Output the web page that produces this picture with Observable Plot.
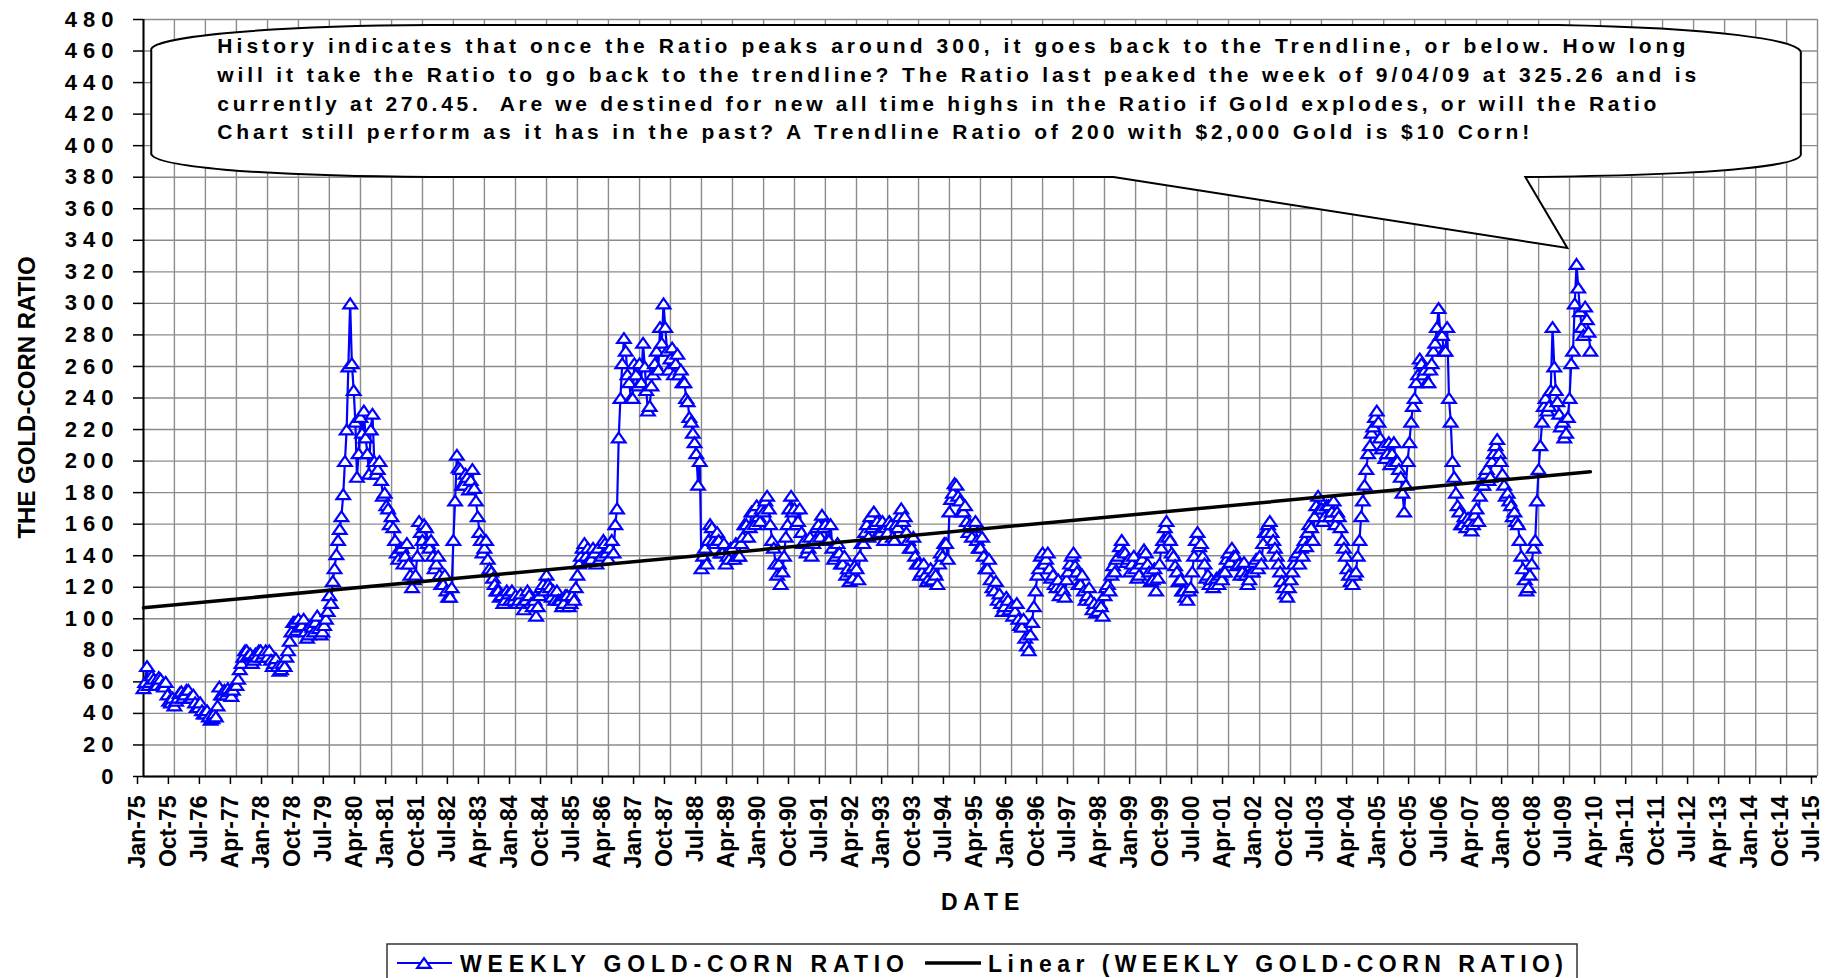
<!DOCTYPE html>
<html>
<head>
<meta charset="utf-8">
<script src="https://cdn.jsdelivr.net/npm/d3@7"></script>
<script src="https://cdn.jsdelivr.net/npm/@observablehq/plot@0.6"></script>
<style>
  html, body { margin: 0; padding: 0; background: #fff; }
  #chart svg { display: block; }
  #chart g[aria-label="y-axis tick label"] text { font-size: 22px; letter-spacing: 6px; }
  #chart g[aria-label="x-axis tick label"] text { font-size: 23px; }
</style>
</head>
<body>
<div id="chart"></div>
<script>
const FONT = '"Liberation Sans", Arial, Helvetica, sans-serif';

// ---- data: gold/corn ratio, two readings per month (1st and 16th) from Jan 1975 ----
const firstMonth = "1975-01";
const ratio1970sEarly = [
  56, 70, 60, 62, 58, 62, 57, 52, 47, 45, 50, 54,        // 1975
  52, 55, 50, 47, 44, 42, 40, 38, 37, 38, 57, 52,        // 1976
  52, 54, 55, 58, 68, 76, 80, 78, 74, 76, 80, 78,        // 1977
  76, 74, 72, 70, 68, 70, 80, 92, 98, 100, 96, 92,       // 1978
  90, 95, 98, 94, 92, 100, 115, 124, 141, 157, 179, 220  // 1979
];
const ratio1970sLate = [
  60, 58, 64, 58, 63, 58, 60, 48, 50, 48, 53, 50,
  55, 50, 52, 44, 47, 40, 42, 36, 40, 45, 52, 55,
  56, 51, 58, 62, 72, 80, 77, 72, 78, 80, 76, 80,
  80, 70, 75, 67, 72, 76, 86, 98, 93, 95, 100, 88,
  96, 92, 102, 90, 96, 105, 110, 132, 150, 165, 200, 260
];
const ratio1980sEarly = [
  300, 245, 190, 228, 232, 205, 220, 200, 195, 188, 180, 170, // 1980
  165, 150, 138, 145, 140, 135, 120, 128, 162, 150, 158, 145, // 1981
  140, 135, 128, 122, 118, 114, 150, 204, 195, 185, 190, 188, // 1982
  183, 165, 150, 145, 138, 130, 122, 118, 115, 112, 116, 118, // 1983
  115, 112, 110, 112, 115, 108, 102, 115, 122, 128, 120, 118, // 1984
  118, 112, 110, 115, 110, 112, 128, 140, 148, 145, 138, 142, // 1985
  145, 140, 148, 138, 150, 160, 215, 262, 270, 250, 240, 255, // 1986
  262, 275, 245, 235, 255, 270, 285, 300, 270, 265, 255, 268, // 1987
  258, 250, 238, 225, 212, 185, 132, 145, 150, 158, 148, 150, // 1988
  142, 135, 138, 145, 148, 140, 152, 160, 158, 168, 172, 162  // 1989
];
const ratio1980sLate = [
  262, 225, 205, 218, 215, 192, 230, 192, 200, 178, 172, 160,
  158, 142, 145, 135, 148, 128, 125, 140, 155, 160, 148, 150,
  132, 140, 122, 128, 114, 120, 175, 196, 185, 192, 182, 195,
  175, 155, 142, 150, 132, 126, 118, 114, 110, 118, 112, 112,
  110, 116, 106, 118, 110, 112, 108, 120, 118, 122, 114, 112,
  112, 108, 115, 108, 115, 120, 135, 145, 140, 138, 145, 135,
  138, 150, 142, 145, 142, 170, 240, 278, 255, 240, 262, 248,
  250, 260, 232, 248, 262, 258, 275, 285, 258, 272, 262, 255,
  250, 240, 228, 218, 205, 200, 140, 135, 160, 150, 155, 142,
  148, 140, 145, 138, 140, 148, 160, 152, 168, 160, 165, 170
];
const ratio1990sEarly = [
  168, 178, 160, 145, 128, 122, 140, 160, 178, 170, 162, 155, // 1990
  150, 145, 140, 150, 160, 166, 160, 150, 145, 140, 142, 135, // 1991
  128, 124, 126, 132, 140, 148, 160, 165, 168, 162, 155, 150, // 1992
  155, 160, 150, 158, 170, 165, 150, 145, 140, 135, 130, 128, // 1993
  126, 125, 128, 135, 140, 148, 168, 180, 185, 175, 168, 162, // 1994
  160, 158, 150, 145, 140, 132, 125, 118, 112, 110, 108, 112, // 1995
  108, 105, 100, 95, 88, 80, 98, 118, 132, 142, 138, 132,     // 1996
  128, 120, 115, 118, 125, 135, 142, 130, 122, 118, 115, 112, // 1997
  110, 105, 108, 115, 122, 128, 130, 140, 150, 142, 138, 135, // 1998
  132, 128, 138, 142, 130, 125, 118, 135, 150, 162, 150, 140  // 1999
];
const ratio1990sLate = [
  175, 170, 150, 135, 135, 130, 152, 170, 168, 160, 170, 148,
  142, 152, 148, 158, 152, 158, 150, 160, 138, 148, 135, 140,
  132, 130, 134, 125, 148, 155, 152, 158, 160, 155, 162, 158,
  162, 152, 160, 165, 162, 155, 145, 152, 135, 128, 135, 124,
  132, 130, 122, 142, 148, 138, 176, 186, 178, 168, 172, 155,
  152, 162, 145, 152, 132, 138, 120, 124, 116, 105, 114, 106,
  102, 110, 96, 100, 83, 90, 108, 128, 140, 135, 142, 126,
  122, 125, 120, 114, 130, 140, 134, 122, 128, 112, 120, 106,
  104, 110, 102, 120, 118, 134, 138, 146, 143, 136, 130, 140,
  126, 135, 144, 135, 124, 132, 126, 145, 158, 152, 142, 134
];
const ratio2000sEarly = [
  130, 125, 118, 112, 120, 140, 155, 148, 135, 128, 125, 122, // 2000
  122, 125, 130, 142, 145, 140, 135, 130, 128, 125, 130, 138, // 2001
  140, 148, 155, 162, 150, 140, 130, 120, 114, 125, 135, 142, // 2002
  145, 150, 155, 158, 165, 178, 170, 165, 172, 168, 160, 165, // 2003
  150, 140, 128, 122, 130, 150, 175, 195, 210, 222, 232, 215, // 2004
  210, 205, 198, 212, 200, 190, 168, 200, 225, 240, 255, 262, // 2005
  258, 250, 262, 275, 297, 280, 270, 240, 200, 180, 168, 160, // 2006
  158, 162, 160, 170, 178, 185, 195, 190, 205, 214, 200, 185, // 2007
  180, 172, 168, 160, 140, 125, 120, 135, 150, 195, 225, 240, // 2008
  235, 285, 245, 230, 225, 218, 240, 270, 325, 295, 280, 290, // 2009
  270                                                          // Jan 2010
];
const ratio2000sLate = [
  124, 118, 114, 118, 130, 150, 146, 140, 126, 122, 120, 126,
  128, 130, 138, 136, 140, 134, 128, 136, 122, 130, 136, 132,
  135, 155, 160, 155, 145, 135, 124, 116, 120, 130, 140, 135,
  140, 146, 160, 150, 172, 170, 162, 172, 165, 175, 168, 158,
  145, 132, 124, 128, 140, 165, 185, 205, 218, 228, 225, 208,
  202, 212, 205, 200, 195, 180, 185, 212, 235, 250, 265, 255,
  250, 258, 270, 285, 280, 270, 285, 225, 190, 172, 160, 165,
  164, 156, 166, 162, 185, 192, 188, 200, 210, 205, 192, 178,
  175, 165, 162, 150, 132, 118, 128, 145, 175, 210, 235, 232,
  245, 260, 238, 222, 215, 228, 262, 300, 310, 285, 298, 282
];

const yTicks = [0, 20, 40, 60, 80, 100, 120, 140, 160, 180, 200, 220, 240,
  260, 280, 300, 320, 340, 360, 380, 400, 420, 440, 460, 480];
const xTickLabels = ["Jan-75","Oct-75","Jul-76","Apr-77","Jan-78","Oct-78","Jul-79","Apr-80",
  "Jan-81","Oct-81","Jul-82","Apr-83","Jan-84","Oct-84","Jul-85","Apr-86","Jan-87","Oct-87",
  "Jul-88","Apr-89","Jan-90","Oct-90","Jul-91","Apr-92","Jan-93","Oct-93","Jul-94","Apr-95",
  "Jan-96","Oct-96","Jul-97","Apr-98","Jan-99","Oct-99","Jul-00","Apr-01","Jan-02","Oct-02",
  "Jul-03","Apr-04","Jan-05","Oct-05","Jul-06","Apr-07","Jan-08","Oct-08","Jul-09","Apr-10",
  "Jan-11","Oct-11","Jul-12","Apr-13","Jan-14","Oct-14","Jul-15"];

const seriesName = "WEEKLY GOLD-CORN RATIO";
const trendName = "Linear (WEEKLY GOLD-CORN RATIO)";
const yTitle = "THE GOLD-CORN RATIO";
const xTitle = "DATE";
const calloutLines = [
  "History indicates that once the Ratio peaks around 300, it goes back to the Trendline, or below. How long",
  "will it take the Ratio to go back to the trendline? The Ratio last peaked the week of 9/04/09 at 325.26 and is",
  "currently at 270.45.  Are we destined for new all time highs in the Ratio if Gold explodes, or will the Ratio",
  "Chart still perform as it has in the past? A Trendline Ratio of 200 with $2,000 Gold is $10 Corn!"
];

// ---- build table ----
const start = d3.utcParse("%Y-%m")(firstMonth);
const early = [...ratio1970sEarly, ...ratio1980sEarly, ...ratio1990sEarly, ...ratio2000sEarly];
const late = [...ratio1970sLate, ...ratio1980sLate, ...ratio1990sLate, ...ratio2000sLate];
const data = [];
early.forEach((v, i) => {
  const m = d3.utcMonth.offset(start, i);
  data.push({date: m, ratio: v});
  if (i < late.length) data.push({date: d3.utcDay.offset(m, 15), ratio: late[i]});
});

const parseTick = d3.utcParse("%b-%y");
const xTickDates = xTickLabels.map(parseTick);
const labelByTime = new Map(xTickDates.map((d, i) => [+d, xTickLabels[i]]));

const BLUE = "#0000ff";
const GRID = "#8c8c8c";

const triangle = {
  draw(ctx) {
    ctx.moveTo(0, -4.9);
    ctx.lineTo(6.8, 4.9);
    ctx.lineTo(-6.8, 4.9);
    ctx.closePath();
  }
};

function svgEl(name) { return document.createElementNS("http://www.w3.org/2000/svg", name); }
function attrs(el, a) { for (const k in a) el.setAttribute(k, a[k]); return el; }

// callout bubble (annotation), anchored through the scales
function calloutMark(index, scales) {
  const xs = scales.x, ys = scales.y;
  const L = xs(new Date(Date.UTC(1975, 2, 15))), R = xs(new Date(Date.UTC(2015, 1, 8)));
  const T = ys(476.2), B = ys(379.8);
  const wl = xs(new Date(Date.UTC(1998, 5, 24))), wr = xs(new Date(Date.UTC(2008, 5, 10)));
  const tx = xs(new Date(Date.UTC(2009, 5, 16))), ty = ys(334.8);
  const d = `M${L},${B - 22} L${L},${T + 24} ` +
    `C${L + 4},${T + 13} ${L + 99},${T + 1} ${L + 279},${T} ` +
    `L${R - 242},${T} C${R - 82},${T + 3} ${R - 4},${T + 15} ${R},${T + 27} ` +
    `L${R},${B - 22} C${R - 4},${B - 11} ${R - 82},${B - 2} ${wr},${B} ` +
    `L${tx},${ty} L${wl},${B} L${L + 279},${B} ` +
    `C${L + 99},${B - 1} ${L + 4},${B - 11} ${L},${B - 23} Z`;
  const g = svgEl("g");
  g.appendChild(attrs(svgEl("path"), {d, fill: "#fff", stroke: "#000", "stroke-width": 2, "stroke-linejoin": "miter"}));
  const widths = [1468, 1479, 1439, 1312];
  calloutLines.forEach((line, i) => {
    const t = attrs(svgEl("text"), {
      x: L + 66, y: T + 28.3 + i * 28.65, "text-anchor": "start",
      "font-size": 21, "font-weight": "bold", "font-family": FONT, fill: "#000",
      textLength: widths[i], lengthAdjust: "spacing"
    });
    t.style.whiteSpace = "pre";
    t.textContent = line;
    g.appendChild(t);
  });
  return g;
}

// axis titles
function titlesMark(index, scales, values, dims) {
  const g = svgEl("g");
  const cy = (dims.marginTop + dims.height - dims.marginBottom) / 2;
  const cx = (dims.marginLeft + dims.width - dims.marginRight) / 2;
  const yt = attrs(svgEl("text"), {
    transform: `translate(35,${cy}) rotate(-90)`, "text-anchor": "middle",
    "font-size": 24, "font-weight": "bold", "font-family": FONT, fill: "#000"
  });
  yt.textContent = yTitle;
  g.appendChild(yt);
  const xt = attrs(svgEl("text"), {
    x: cx + 3, y: 910, "text-anchor": "middle",
    "font-size": 23, "font-weight": "bold", "font-family": FONT, fill: "#000"
  });
  xt.style.letterSpacing = "5.8px";
  xt.textContent = xTitle;
  g.appendChild(xt);
  return g;
}

// legend box at the bottom
function legendMark() {
  const g = svgEl("g");
  g.appendChild(attrs(svgEl("rect"), {x: 387, y: 944, width: 1190, height: 60, fill: "#fff", stroke: "#333", "stroke-width": 1.5}));
  const ly = 963;
  g.appendChild(attrs(svgEl("line"), {x1: 397, x2: 452, y1: ly, y2: ly, stroke: BLUE, "stroke-width": 2.2}));
  g.appendChild(attrs(svgEl("path"), {d: `M424,${ly - 4.9} L430.8,${ly + 4.9} L417.2,${ly + 4.9} Z`, fill: "#fff", stroke: BLUE, "stroke-width": 2.2}));
  const t1 = attrs(svgEl("text"), {x: 460, y: 971.5, "text-anchor": "start", "font-size": 23, "font-weight": "bold", "font-family": FONT, fill: "#000", textLength: 444, lengthAdjust: "spacing"});
  t1.textContent = seriesName;
  g.appendChild(t1);
  g.appendChild(attrs(svgEl("line"), {x1: 925, x2: 981, y1: ly, y2: ly, stroke: "#000", "stroke-width": 3.5}));
  const t2 = attrs(svgEl("text"), {x: 988, y: 971.5, "text-anchor": "start", "font-size": 23, "font-weight": "bold", "font-family": FONT, fill: "#000", textLength: 575, lengthAdjust: "spacing"});
  t2.textContent = trendName;
  g.appendChild(t2);
  return g;
}

const chart = Plot.plot({
  width: 1828,
  height: 978,
  marginLeft: 143,
  marginRight: 11,
  marginTop: 19,
  marginBottom: 202,
  style: {fontFamily: FONT, fontWeight: "bold", color: "#000", background: "#fff", overflow: "visible"},
  x: {type: "utc", domain: [xTickDates[0], xTickDates[xTickDates.length - 1]]},
  y: {domain: [0, 480]},
  marks: [
    Plot.gridY(yTicks, {stroke: GRID, strokeOpacity: 1, strokeWidth: 1.4}),
    Plot.gridX(xTickDates, {stroke: GRID, strokeOpacity: 1, strokeWidth: 1.4}),
    Plot.ruleX([xTickDates[0]], {stroke: "#000", strokeWidth: 2}),
    Plot.ruleY([0], {stroke: "#000", strokeWidth: 2}),
    Plot.axisY(yTicks, {tickSize: 10, tickPadding: 14, label: null, fontSize: 22, strokeWidth: 1.5}),
    Plot.axisX(xTickDates, {tickSize: 8, tickPadding: 11, tickRotate: -90, label: null, fontSize: 23, dx: -6,
      tickFormat: d => labelByTime.get(+d), strokeWidth: 1.5}),
    Plot.line(data, {x: "date", y: "ratio", stroke: BLUE, strokeWidth: 2.2}),
    Plot.dot(data, {x: "date", y: "ratio", symbol: triangle, r: 5, stroke: BLUE, fill: "#fff", strokeWidth: 2.2}),
    Plot.linearRegressionY(data, {x: "date", y: "ratio", stroke: "#000", strokeWidth: 3.5, ci: 0}),
    calloutMark,
    titlesMark,
    legendMark
  ]
});

document.getElementById("chart").appendChild(chart);
</script>
</body>
</html>
